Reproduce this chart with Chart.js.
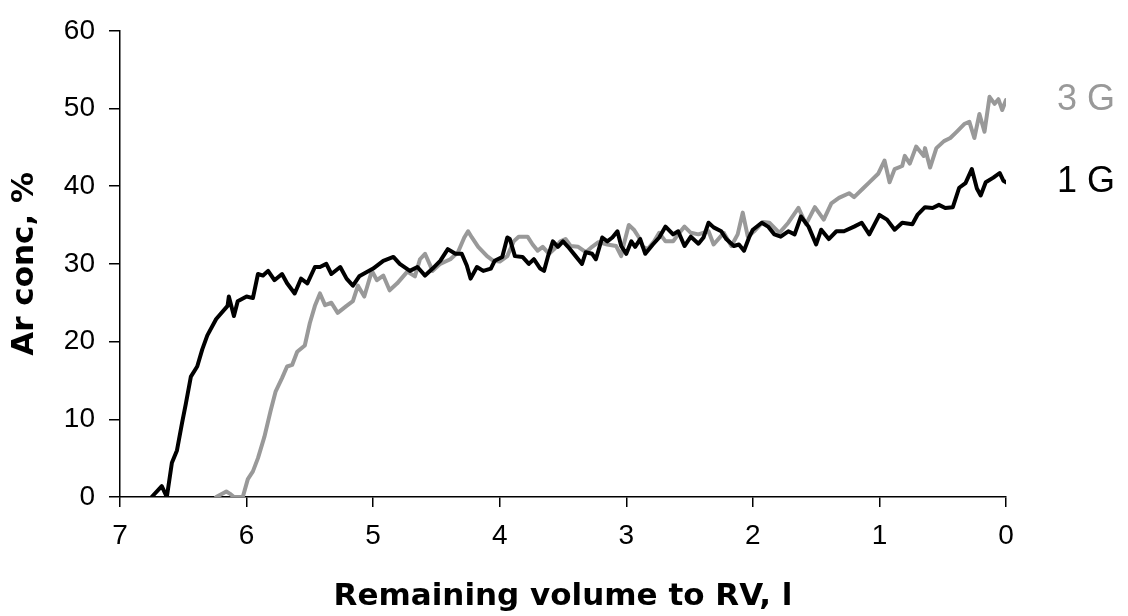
<!DOCTYPE html>
<html>
<head>
<meta charset="utf-8">
<script src="https://cdn.jsdelivr.net/npm/chart.js@4/dist/chart.umd.min.js"></script>
<style>
  html, body { margin: 0; padding: 0; background: #fff; }
  #wrap { width: 1128px; height: 616px; }
</style>
</head>
<body>
<div id="wrap"><canvas id="chart-ar"></canvas></div>
<script>
// remaining volume to RV (l) and Ar concentration (%)
const vol1G = [6.75, 6.67, 6.63, 6.59, 6.55, 6.51, 6.48, 6.44, 6.39, 6.35, 6.31, 6.24, 6.15, 6.14, 6.10, 6.07, 6.00, 5.95, 5.91, 5.87,
    5.83, 5.78, 5.72, 5.68, 5.62, 5.57, 5.52, 5.46, 5.42, 5.37, 5.33, 5.26, 5.21, 5.16, 5.11, 5.00, 4.92, 4.84, 4.79, 4.71,
    4.65, 4.59, 4.53, 4.47, 4.41, 4.35, 4.30, 4.26, 4.23, 4.18, 4.13, 4.07, 4.04, 3.98, 3.94, 3.92, 3.88, 3.82, 3.77, 3.73,
    3.68, 3.65, 3.62, 3.58, 3.54, 3.50, 3.46, 3.40, 3.35, 3.32, 3.27, 3.24, 3.19, 3.15, 3.11, 3.07, 3.04, 3.00, 2.96, 2.93,
    2.89, 2.85, 2.79, 2.74, 2.69, 2.63, 2.59, 2.54, 2.49, 2.43, 2.39, 2.35, 2.31, 2.25, 2.21, 2.15, 2.11, 2.07, 2.03, 2.00,
    1.93, 1.88, 1.83, 1.78, 1.72, 1.67, 1.62, 1.56, 1.50, 1.46, 1.40, 1.34, 1.28, 1.20, 1.14, 1.08, 1.00, 0.94, 0.88, 0.82,
    0.74, 0.70, 0.64, 0.58, 0.53, 0.48, 0.42, 0.37, 0.32, 0.27, 0.23, 0.20, 0.16, 0.10, 0.05, 0.02, 0.00];
const conc1G = [0, 1.4, 0, 4.4, 6, 9.5, 12, 15.5, 16.8, 19, 20.8, 22.9, 24.6, 25.8, 23.3, 25.2, 25.8, 25.6, 28.7, 28.5,
    29.1, 27.9, 28.7, 27.5, 26.2, 28.1, 27.5, 29.6, 29.6, 30, 28.7, 29.6, 28.1, 27.2, 28.4, 29.4, 30.4, 30.9, 30, 29.1,
    29.6, 28.5, 29.4, 30.4, 31.9, 31.3, 31.3, 29.8, 28.1, 29.6, 29.1, 29.4, 30.4, 30.9, 33.4, 33.2, 31, 30.9, 30, 30.6,
    29.4, 29.1, 30.9, 32.9, 32.2, 32.9, 32.2, 31, 30, 31.5, 31.3, 30.6, 33.4, 32.9, 33.4, 34.2, 32.3, 31.3, 32.9, 32.2,
    33.2, 31.3, 32.5, 33.4, 34.8, 33.8, 34.2, 32.3, 33.5, 32.6, 33.4, 35.3, 34.7, 34.2, 33.2, 32.3, 32.5, 31.7, 33.4, 34.4,
    35.3, 34.8, 33.8, 33.5, 34.2, 33.8, 36.1, 34.8, 32.5, 34.4, 33.2, 34.2, 34.2, 34.8, 35.3, 33.8, 36.3, 35.7, 34.4, 35.3,
    35.1, 36.3, 37.3, 37.2, 37.6, 37.2, 37.3, 39.8, 40.4, 42.2, 39.7, 38.8, 40.5, 41.1, 41.7, 40.7, 40.5];

const vol3G = [6.24, 6.16, 6.13, 6.10, 6.03, 5.99, 5.95, 5.91, 5.86, 5.81, 5.77, 5.72, 5.68, 5.64, 5.60, 5.54, 5.50, 5.46, 5.42, 5.38,
    5.33, 5.28, 5.21, 5.16, 5.12, 5.07, 5.01, 4.97, 4.92, 4.87, 4.81, 4.73, 4.67, 4.63, 4.59, 4.53, 4.47, 4.39, 4.33, 4.28,
    4.25, 4.22, 4.17, 4.10, 4.05, 4.00, 3.94, 3.89, 3.85, 3.78, 3.74, 3.70, 3.66, 3.61, 3.57, 3.52, 3.48, 3.44, 3.38, 3.32,
    3.27, 3.22, 3.15, 3.08, 3.04, 3.02, 2.98, 2.94, 2.90, 2.87, 2.83, 2.78, 2.74, 2.69, 2.63, 2.59, 2.54, 2.49, 2.43, 2.35,
    2.31, 2.23, 2.17, 2.12, 2.08, 2.04, 1.99, 1.92, 1.87, 1.79, 1.72, 1.64, 1.58, 1.51, 1.44, 1.38, 1.32, 1.24, 1.20, 1.13,
    1.08, 1.01, 0.96, 0.92, 0.88, 0.82, 0.80, 0.76, 0.71, 0.65, 0.64, 0.60, 0.55, 0.49, 0.44, 0.39, 0.33, 0.29, 0.25, 0.21,
    0.17, 0.13, 0.09, 0.06, 0.03, 0.00];
const conc3G = [0, 0.7, 0.4, 0, 0, 2.3, 3.3, 5, 7.7, 11.1, 13.6, 15.3, 16.8, 17, 18.7, 19.5, 22.4, 24.6, 26.2, 24.7,
    25, 23.7, 24.6, 25.2, 27.2, 25.8, 29.1, 27.9, 28.5, 26.6, 27.5, 29, 28.4, 30.6, 31.3, 29.1, 30, 30.6, 31.5, 33.4,
    34.2, 33.4, 32.2, 31, 30.4, 30.3, 31, 32.9, 33.5, 33.5, 32.5, 31.7, 32.2, 31.3, 31.9, 32.9, 33.2, 32.3, 32.2, 31.5,
    32.2, 32.8, 32.5, 32.3, 31, 32.5, 35, 34.4, 33.4, 32.2, 31.9, 32.9, 34, 32.9, 32.9, 33.8, 34.8, 34, 33.8, 34.2,
    32.5, 34, 32.3, 33.8, 36.6, 33.5, 34.2, 35.4, 35.3, 34, 35.3, 37.2, 35.1, 37.3, 35.7, 37.8, 38.5, 39.1, 38.6, 39.7,
    40.5, 41.6, 43.3, 40.5, 42.2, 42.6, 43.9, 42.9, 45.1, 43.9, 44.9, 42.4, 44.9, 45.8, 46.2, 47, 48, 48.3, 46.2, 49.3,
    47, 51.5, 50.6, 51.2, 49.8, 51.1];

const seriesNames = ["1 G", "3 G"];
const seriesColors = ["#000000", "#999999"];

function toPoints(xs, ys) {
    return xs.map((x, i) => ({ x: x, y: ys[i] }));
}

// writes the series name just right of the end of each line
const endLabels = {
    id: "endLabels",
    afterDatasetsDraw(chart) {
        const ctx = chart.ctx;
        const yScale = chart.scales.y;
        ctx.save();
        ctx.font = '36px "Liberation Sans", Arial, sans-serif';
        ctx.textAlign = "left";
        ctx.textBaseline = "middle";
        chart.data.datasets.forEach((ds) => {
            const last = ds.data[ds.data.length - 1];
            ctx.fillStyle = ds.borderColor;
            ctx.fillText(ds.label, chart.chartArea.right + 51, yScale.getPixelForValue(last.y));
        });
        ctx.restore();
    },
};

const tickFont = { family: '"Liberation Sans", Arial, sans-serif', size: 28 };
const titleFont = { family: '"DejaVu Sans", sans-serif', size: 31, weight: "bold" };

const config = {
    type: "line",
    data: {
        datasets: [
            {
                label: seriesNames[0],
                data: toPoints(vol1G, conc1G),
                borderColor: seriesColors[0],
                borderWidth: 4,
                borderJoinStyle: "round",
                borderCapStyle: "round",
                pointRadius: 0,
                tension: 0,
            },
            {
                label: seriesNames[1],
                data: toPoints(vol3G, conc3G),
                borderColor: seriesColors[1],
                borderWidth: 4,
                borderJoinStyle: "round",
                borderCapStyle: "round",
                pointRadius: 0,
                tension: 0,
            },
        ],
    },
    options: {
        responsive: true,
        maintainAspectRatio: false,
        animation: false,
        layout: { padding: { left: 0, right: 122, top: 27, bottom: 0 } },
        plugins: {
            legend: { display: false },
            tooltip: { enabled: false },
        },
        scales: {
            x: {
                type: "linear",
                reverse: true,
                min: 0,
                max: 7,
                ticks: { stepSize: 1, color: "#000", font: tickFont, padding: 12 },
                grid: { drawOnChartArea: false, tickLength: 10, color: "#000", lineWidth: 1.5 },
                border: { color: "#000", width: 1.5 },
                title: { display: true, text: "Remaining volume to RV, l", color: "#000", font: titleFont, padding: { top: 0, bottom: 0 } },
                afterFit(scale) { scale.height = 119; },
            },
            y: {
                min: 0,
                max: 60,
                ticks: { stepSize: 10, color: "#000", font: tickFont, padding: 14 },
                grid: { drawOnChartArea: false, tickLength: 11, color: "#000", lineWidth: 1.5 },
                border: { color: "#000", width: 1.5 },
                title: { display: true, text: "Ar conc, %", color: "#000", font: titleFont, padding: { top: 6, bottom: 0 } },
                afterFit(scale) { scale.width = 120; },
            },
        },
    },
    plugins: [endLabels],
};

const myChart = new Chart(document.getElementById("chart-ar"), config);
</script>
</body>
</html>
